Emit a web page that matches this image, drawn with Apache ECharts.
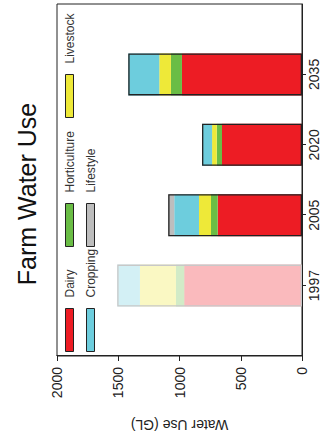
<!DOCTYPE html>
<html>
<head>
<meta charset="utf-8">
<script src="https://cdn.jsdelivr.net/npm/echarts@6/dist/echarts.min.js"></script>
<style>
  html, body { margin: 0; padding: 0; width: 325px; height: 442px; overflow: hidden; background: #fff; }
  #chart {
    position: absolute; left: 0; top: 0;
    width: 442px; height: 325px;
    transform-origin: 0 0;
    transform: translate(0px, 442px) rotate(-90deg);
  }
</style>
</head>
<body>
<div id="chart"></div>
<script>
// ---- data ----
const years = ['1997', '2005', '2020', '2035'];
const seriesNames = ['Dairy', 'Horticulture', 'Livestock', 'Cropping', 'Lifestyle'];
const dairy        = [961, 688, 653, 980];
const horticulture = [68, 55, 43, 90];
const livestock    = [294, 98, 38, 95];
const cropping     = [185, 202, 82, 253];
const lifestyle    = [0, 49, 0, 0];
const valueTicks   = [0, 500, 1000, 1500, 2000];
const fadedYears   = ['1997'];

const seriesValues = [dairy, horticulture, livestock, cropping, lifestyle];
const colors = ['#ED1C24', '#6ABD45', '#EEE938', '#6DCDDD', '#BDBDBD'];

// pad axis with empty slots so categories sit at positions 1..4 of 0..5
const axisData = [''].concat(years).concat([' ']);
function padded(arr) { return [null].concat(arr).concat([null]); }

const chart = echarts.init(document.getElementById('chart'), null, { renderer: 'svg', width: 442, height: 325 });

const series = seriesNames.map((name, si) => ({
  name: name,
  type: 'bar',
  stack: 'total',
  barWidth: 42,
  itemStyle: { color: colors[si], borderWidth: 0 },
  data: padded(seriesValues[si].map((v, i) => ({
    value: v,
    itemStyle: fadedYears.includes(years[i]) ? { opacity: 0.3 } : {}
  }))),
  emphasis: { disabled: true }
}));

const totals = years.map((y, i) => seriesValues.reduce((s, arr) => s + arr[i], 0));
series.push({
  name: 'outline',
  type: 'bar',
  barWidth: 42,
  barGap: '-100%',
  z: 5,
  silent: true,
  itemStyle: { color: 'rgba(0,0,0,0)', borderColor: '#222', borderWidth: 1.3 },
  data: padded(totals.map((v, i) => ({
    value: v,
    itemStyle: fadedYears.includes(years[i]) ? { borderColor: '#C8C8C8' } : {}
  })))
});

const legendPos = [
  { name: 'Dairy', left: 90, top: 63.5 },
  { name: 'Horticulture', left: 195, top: 63.5 },
  { name: 'Livestock', left: 324, top: 63.5 },
  { name: 'Cropping', left: 90, top: 84.5 },
  { name: 'Lifestyle', left: 195, top: 84.5 }
];
const font = 'Liberation Sans, Arial, sans-serif';

const option = {
  animation: false,
  backgroundColor: '#fff',
  title: {
    text: 'Farm Water Use',
    left: 243, top: 9,
    textAlign: 'center',
    textStyle: { fontFamily: font, fontSize: 25, fontWeight: 'normal', color: '#111' }
  },
  legend: legendPos.map(p => ({
    data: [p.name],
    left: p.left, top: p.top,
    padding: 0,
    itemWidth: 43, itemHeight: 8,
    icon: 'rect',
    selectedMode: false,
    itemStyle: { borderColor: '#222', borderWidth: 1 },
    textStyle: { fontFamily: font, fontSize: 12, color: '#333', padding: [0, 0, 0, 6] }
  })),
  grid: {
    left: 86, right: 4, top: 57, bottom: 23,
    show: true, borderColor: '#222', borderWidth: 1,
    containLabel: false,
    outerBoundsMode: 'none'
  },
  xAxis: {
    type: 'category',
    data: axisData,
    boundaryGap: false,
    axisLine: { show: true, lineStyle: { color: '#222', width: 1 } },
    axisTick: { show: true, length: 4, lineStyle: { color: '#222' }, interval: (idx, val) => val.trim() !== '' },
    axisLabel: { interval: 0, margin: 5, fontFamily: font, fontSize: 14, color: '#222' },
    splitLine: { show: false }
  },
  yAxis: {
    type: 'value',
    min: valueTicks[0], max: valueTicks[valueTicks.length - 1], interval: valueTicks[1] - valueTicks[0],
    name: 'Water Use (GL)',
    nameLocation: 'middle',
    nameGap: 62,
    nameTextStyle: { fontFamily: font, fontSize: 14, color: '#222' },
    axisLine: { show: true, lineStyle: { color: '#222', width: 1 } },
    axisTick: { show: true, length: 5, lineStyle: { color: '#222' } },
    axisLabel: { margin: 11, fontFamily: font, fontSize: 14, color: '#222', formatter: v => String(v) },
    splitLine: { show: false }
  },
  series: series
};
chart.setOption(option);
</script>
</body>
</html>
